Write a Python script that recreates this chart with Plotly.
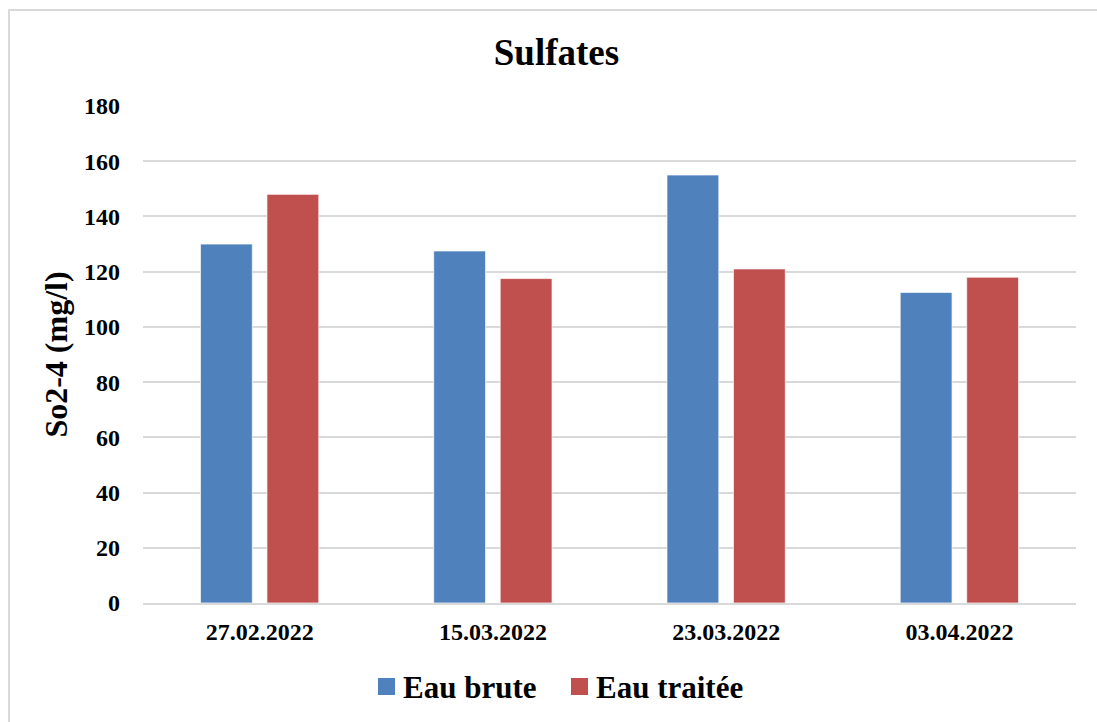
import plotly.graph_objects as go

# Sulfate concentrations (mg/l) per sampling date
dates = ["27.02.2022", "15.03.2022", "23.03.2022", "03.04.2022"]
eau_brute = [130, 127.5, 155, 112.5]
eau_traitee = [148, 117.5, 121, 118]
y_ticks = [0, 20, 40, 60, 80, 100, 120, 140, 160, 180]
series = [("Eau brute", eau_brute, "#4F81BD"), ("Eau traitée", eau_traitee, "#C0504D")]

FONT = "Liberation Serif"
W, H = 1097, 722
L, R, T, B = 143, 21, 106, 119
PW, PH = W - L - R, H - T - B


def px_x(x):
    """pixel column -> paper x"""
    return (x - L) / PW


def px_y(y):
    """pixel row -> paper y"""
    return (H - B - y) / PH


fig = go.Figure()
for name, vals, color in series:
    fig.add_trace(go.Bar(
        x=dates, y=vals, name=name, showlegend=False,
        marker=dict(color=color, line=dict(color="rgba(255,255,255,0.7)", width=1)),
    ))

# frame around the chart
shapes = [dict(
    type="rect", xref="paper", yref="paper", layer="below",
    x0=px_x(9), x1=px_x(W + 20), y0=px_y(H + 20), y1=px_y(10),
    line=dict(color="#d9d9d9", width=2), fillcolor="rgba(0,0,0,0)",
)]
annotations = []

# legend below the plot: square key + bold label per series
legend_keys = [378, 571]
for (name, _, color), kx in zip(series, legend_keys):
    shapes.append(dict(
        type="rect", xref="paper", yref="paper",
        x0=px_x(kx), x1=px_x(kx + 17), y0=px_y(695), y1=px_y(678),
        line=dict(width=0), fillcolor=color,
    ))
    annotations.append(dict(
        text=f"<b>{name}</b>", xref="paper", yref="paper",
        x=px_x(kx + 23), y=px_y(687), xanchor="left", yanchor="middle",
        showarrow=False, font=dict(family=FONT, size=31, color="black"),
    ))

fig.update_layout(
    width=W, height=H,
    margin=dict(l=L, r=R, t=T, b=B),
    paper_bgcolor="white", plot_bgcolor="white",
    barmode="group", bargap=0.43, bargroupgap=0.22,
    font=dict(family=FONT, color="black"),
    showlegend=False,
    title=dict(
        text="<b>Sulfates</b>", x=(W / 2 + 8) / W, xanchor="center",
        y=1 - 52 / H, yanchor="middle", yref="container",
        font=dict(family=FONT, size=37, color="black"),
    ),
    xaxis=dict(
        showgrid=False, showline=True, linecolor="#d9d9d9", linewidth=2,
        ticks="", ticklabelstandoff=6,
        tickfont=dict(family=FONT, size=24, color="black", weight="bold"),
    ),
    yaxis=dict(
        range=[0, 180], tickvals=y_ticks, showgrid=True,
        gridcolor="#d9d9d9", gridwidth=2, zeroline=False, showline=False,
        ticks="", ticklabelstandoff=22,
        tickfont=dict(family=FONT, size=24, color="black", weight="bold"),
        title=dict(text="<b>So2-4 (mg/l)</b>", standoff=6,
                   font=dict(family=FONT, size=32, color="black")),
    ),
    shapes=shapes,
    annotations=annotations,
)

fig.write_html("out.html")
